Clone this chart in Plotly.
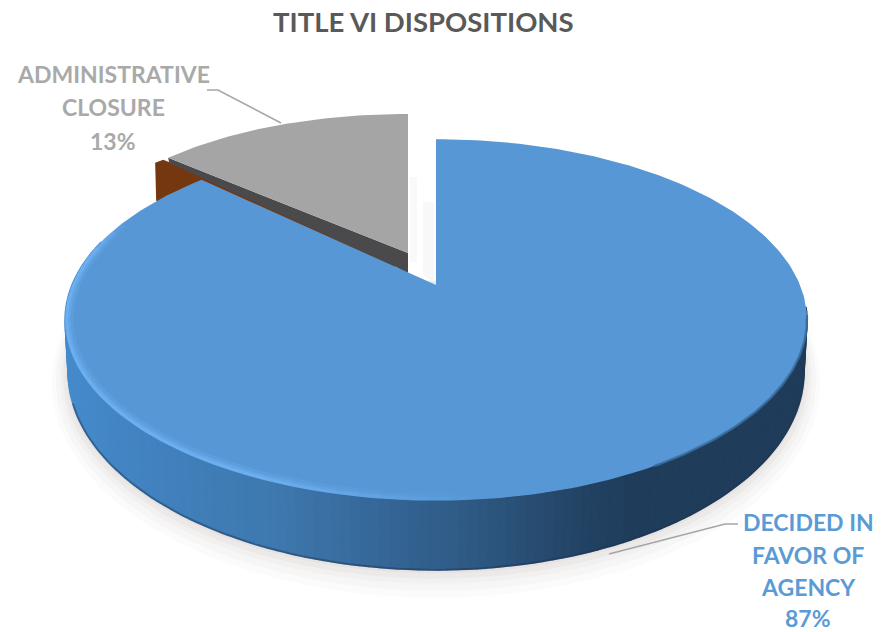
import numpy as np
import plotly.graph_objects as go

# Shares of the two dispositions, in percent
categories = ["DECIDED IN FAVOR OF AGENCY", "ADMINISTRATIVE CLOSURE"]
shares = [87, 13]
title_text = "TITLE VI DISPOSITIONS"

# Colours
BLUE_TOP = "#5797d6"
GREY_TOP = "#a5a5a5"
GREY_WALL = "#4a4a4c"
BROWN = "#743710"
LABEL_BLUE = "#5b9bd5"
LABEL_GREY = "#a9a9a9"
TITLE_GREY = "#595959"

# Wall colour stops along the horizontal position of the rim
wall_x = [60, 150, 280, 400, 480, 540, 590, 640, 820]
wall_rgb = [
    (70, 140, 205), (66, 130, 192), (62, 120, 174), (52, 100, 148), (46, 88, 130),
    (40, 76, 112), (34, 66, 98), (31, 60, 90), (31, 60, 90),
]


def project(theta, cx, cy, a, b, k=0.193):
    """Map a pie angle (radians clockwise from 12 o'clock) onto the tilted disc."""
    u, v = np.sin(theta), np.cos(theta)
    w = 1 + k * v
    return cx + a * u / w, cy - b * v / w


TOP = dict(cx=436, cy=285, a=364, b=174)
BASE = dict(cx=436, cy=333.7, a=361, b=190.6)
GREY_DISC = dict(cx=408, cy=253, a=329, b=139, k=0.0)

split = 2 * np.pi * shares[0] / sum(shares)
fig = go.Figure()


def poly(xs, ys, color, opacity=1.0, edge=0.0):
    fig.add_trace(go.Scatter(
        x=list(xs), y=list(ys), mode="lines", fill="toself", fillcolor=color, opacity=opacity,
        line=dict(color=color, width=edge), hoverinfo="skip", showlegend=False,
    ))


def stroke(xs, ys, color, width, opacity=1.0):
    fig.add_trace(go.Scatter(
        x=list(xs), y=list(ys), mode="lines", opacity=opacity,
        line=dict(color=color, width=width), hoverinfo="skip", showlegend=False,
    ))


# Soft shadow round the lower half of the base
th_shadow = np.linspace(np.radians(75), np.radians(290), 160)
for grow, op in [(16, 0.03), (12, 0.035), (8, 0.04), (5, 0.05), (2, 0.06)]:
    sx, sy = project(th_shadow, BASE["cx"], BASE["cy"] + grow * 0.5, BASE["a"] + grow, BASE["b"] + grow)
    poly(sx, sy, "#8c7f72", op)

# Curved wall of the large slice, shaded strip by strip
edges = np.radians(np.linspace(97, 285, 151))
for t0, t1 in zip(edges[:-1], edges[1:]):
    seg = np.linspace(t0, t1, 3)
    tx, ty = project(seg, **TOP)
    bx, by = project(seg, **BASE)
    mid = (tx.mean() + bx.mean()) / 2
    rgb = [np.interp(mid, wall_x, [c[i] for c in wall_rgb]) for i in range(3)]
    col = "rgb(%d,%d,%d)" % tuple(rgb)
    poly(np.r_[tx, bx[::-1]], np.r_[ty, by[::-1]], col, edge=1.5)

# Darker line where the wall meets the ground
th_foot = np.radians(np.linspace(100, 250, 100))
bx, by = project(th_foot, **BASE)
stroke(bx, by, "#1d3550", 2, 0.45)

# Very faint shadows in the gap between the separated slices
poly([410, 417, 417, 410], [177, 177, 262, 262], "#f8f8f8", 0.8)
poly([423, 434, 434, 423], [202, 202, 282, 276], "#f6f6f6", 0.8)

# Small brown wall behind the grey slice
th_grey = np.linspace(split, 2 * np.pi, 60)
rx, ry = project(split, **GREY_DISC)
poly([rx - 13, rx - 5, rx, 395, 395, rx - 12],
     [ry + 5, ry + 2, ry + 4, ry + 102, ry + 117, ry + 43], BROWN)

# Grey slice: cut wall, then top face
poly([rx, 408, 408, 396, rx + 1], [ry, 253, 274, 267, ry + 5], GREY_WALL)
gx, gy = project(th_grey, **GREY_DISC)
poly(np.r_[GREY_DISC["cx"], gx], np.r_[GREY_DISC["cy"], gy], GREY_TOP)

# Large slice: top face
th_blue = np.linspace(0, split, 300)
fx, fy = project(th_blue, **TOP)
poly(np.r_[TOP["cx"], fx], np.r_[TOP["cy"], fy], BLUE_TOP)

# Blurred edge between top face and dark wall on the right
soft = np.radians(np.linspace(100, 150, 60))
hx, hy = project(soft, TOP["cx"], TOP["cy"], TOP["a"], TOP["b"])
stroke(hx, hy, "#3b6c9c", 2.5, 0.8)

# Bevelled highlight along the front-left rim
bevel = np.radians(np.linspace(172, 292, 121))
for inset, width, op in [(1.5, 3, 0.75), (4, 3, 0.45), (7, 3, 0.2)]:
    for t0, t1 in zip(bevel[:-1:3], bevel[3::3]):
        seg = np.linspace(t0, t1, 4)
        hx, hy = project(seg, TOP["cx"], TOP["cy"], TOP["a"] - inset, TOP["b"] - inset * 0.8)
        fade = np.clip((np.degrees(t0) - 172) / 30, 0, 1) * np.clip((292 - np.degrees(t0)) / 12, 0, 1)
        stroke(hx, hy, "#74b8fa", width, op * fade + 0.001)

# Leader lines
stroke([207, 218, 281], [90, 90, 123], "#a5a5a5", 1.5)
stroke([738, 725, 609], [524, 524, 554], "#a5a5a5", 1.5)

fig.update_layout(
    width=892, height=632, margin=dict(l=0, r=0, t=0, b=0),
    paper_bgcolor="white", plot_bgcolor="white", showlegend=False,
    xaxis=dict(range=[0, 892], visible=False, fixedrange=True),
    yaxis=dict(range=[632, 0], visible=False, fixedrange=True),
)


def label(text, x, y, size, color):
    fig.add_annotation(x=x, y=y, text=f"<b>{text}</b>", showarrow=False, xanchor="center", yanchor="middle",
                       font=dict(family="Lato", size=size, color=color))


label(title_text, 423, 21, 27.5, TITLE_GREY)
for line, y in zip(["ADMINISTRATIVE", "CLOSURE", f"{shares[1]}%"], [74, 107, 141]):
    label(line, 113, y, 23, LABEL_GREY)
for line, y in zip(["DECIDED IN", "FAVOR OF", "AGENCY", f"{shares[0]}%"], [522, 555, 587, 618]):
    label(line, 808, y, 23, LABEL_BLUE)

fig.write_html("out.html")
